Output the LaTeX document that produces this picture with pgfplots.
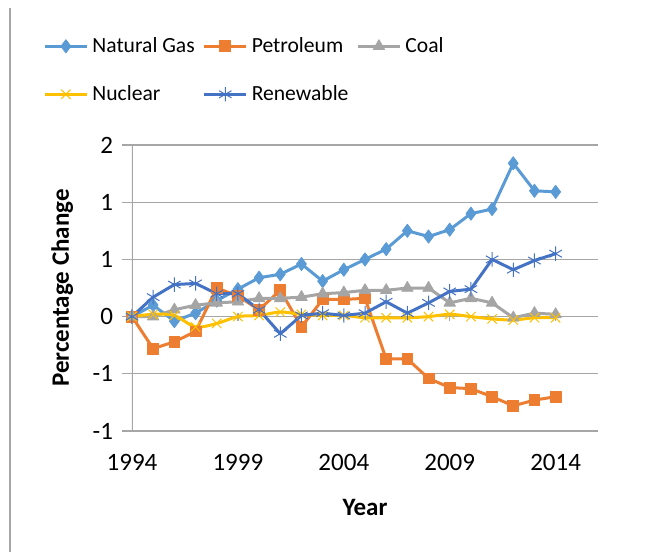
\documentclass[border=0pt]{standalone}
\usepackage{pgfplots}
\pgfplotsset{compat=1.18}
\usepackage{fontspec}
\setmainfont{Carlito}
\definecolor{cgas}{HTML}{5B9BD5}
\definecolor{cpet}{HTML}{ED7D31}
\definecolor{ccoal}{HTML}{A5A5A5}
\definecolor{cnuc}{HTML}{FFC000}
\definecolor{cren}{HTML}{4472C4}
\definecolor{cgrid}{HTML}{A6A6A6}
\begin{document}
\begin{tikzpicture}
% page frame: 652x552 px at 0.5pt per px
\useasboundingbox (-66pt,-60.5pt) rectangle (260pt,215.5pt);
\draw[cgrid, line width=0.6pt] (-61pt,211.5pt) -- (-61pt,-60.5pt);
\begin{axis}[
  at={(0,0)}, anchor=south west,
  scale only axis, width=233pt, height=143pt,
  xmin=1994, xmax=2016, ymin=-1, ymax=1.5,
  xtick={1994,1999,2004,2009,2014},
  xticklabels={1994,1999,2004,2009,2014},
  ytick={-1,-0.5,0,0.5,1,1.5},
  yticklabels={-1,-1,0,1,1,2},
  axis line style={draw=none},
  ymajorgrids, grid style={cgrid, line width=0.6pt},
  tick align=outside, major tick length=5pt,
  xtick style={draw=none}, ytick style={cgrid, line width=0.6pt},
  ytick pos=left,
  tick label style={font=\fontsize{12.5}{15}\selectfont, text=black},
  yticklabel style={xshift=-1pt},
  xticklabel style={yshift=-3pt},
  xlabel={\textbf{Year}}, ylabel={\textbf{Percentage Change}},
  label style={font=\fontsize{12.5}{15}\selectfont},
  xlabel style={at={(axis description cs:0.5,-0.266)}, anchor=center},
  ylabel style={at={(axis description cs:-0.15,0.5)}, anchor=center},
  legend columns=3,
  legend style={at={(rel axis cs:-0.191,1.392)}, anchor=north west, draw=none, fill=none,
    font=\fontsize{10.8}{12}\selectfont, inner sep=0pt, row sep=11pt,
    /tikz/every even column/.append style={column sep=2pt}},
  legend cell align=left,
  legend image code/.code={\draw[mark repeat=2,mark phase=2] plot coordinates {(0pt,0pt)(10.5pt,0pt)(21pt,0pt)};},
  every axis plot/.append style={line width=1.5pt, line join=round},
]
\addplot[cgas, mark=diamond*, mark size=3.3pt, mark options={solid, line width=0.4pt}] coordinates {
  (1994,0)(1995,0.10)(1996,-0.04)(1997,0.03)(1998,0.14)(1999,0.24)(2000,0.34)
  (2001,0.37)(2002,0.46)(2003,0.31)(2004,0.41)(2005,0.50)(2006,0.59)(2007,0.75)
  (2008,0.70)(2009,0.76)(2010,0.90)(2011,0.94)(2012,1.34)(2013,1.10)(2014,1.09)
};
\addlegendentry{Natural Gas}
\addplot[cpet, mark=square*, mark size=2.7pt, mark options={solid, line width=0.4pt}] coordinates {
  (1994,0)(1995,-0.28)(1996,-0.22)(1997,-0.13)(1998,0.25)(1999,0.18)(2000,0.06)
  (2001,0.23)(2002,-0.09)(2003,0.15)(2004,0.15)(2005,0.16)(2006,-0.37)(2007,-0.37)
  (2008,-0.54)(2009,-0.62)(2010,-0.63)(2011,-0.70)(2012,-0.78)(2013,-0.73)(2014,-0.70)
};
\addlegendentry{Petroleum}
\addplot[ccoal, mark=triangle*, mark size=3.3pt, mark options={solid, line width=0.4pt}] coordinates {
  (1994,0)(1995,0.00)(1996,0.06)(1997,0.10)(1998,0.12)(1999,0.13)(2000,0.16)
  (2001,0.16)(2002,0.17)(2003,0.20)(2004,0.21)(2005,0.23)(2006,0.23)(2007,0.25)
  (2008,0.25)(2009,0.12)(2010,0.16)(2011,0.12)(2012,-0.01)(2013,0.03)(2014,0.02)
};
\addlegendentry{Coal}
\addplot[cnuc, smooth, mark=x, mark size=3.3pt, mark options={solid, line width=0.5pt}] coordinates {
  (1994,0)(1995,0.02)(1996,0.01)(1997,-0.09)(1998,-0.06)(1999,0.00)(2000,0.01)
  (2001,0.04)(2002,0.02)(2003,0.01)(2004,0.01)(2005,-0.01)(2006,-0.01)(2007,-0.01)
  (2008,0.00)(2009,0.02)(2010,0.00)(2011,-0.02)(2012,-0.03)(2013,-0.01)(2014,-0.01)
};
\addlegendentry{Nuclear}
\addplot[cren, mark=asterisk, mark size=3.6pt, mark options={solid, line width=0.5pt}] coordinates {
  (1994,0)(1995,0.17)(1996,0.28)(1997,0.29)(1998,0.20)(1999,0.20)(2000,0.06)
  (2001,-0.15)(2002,0.01)(2003,0.03)(2004,0.01)(2005,0.03)(2006,0.13)(2007,0.03)
  (2008,0.12)(2009,0.22)(2010,0.24)(2011,0.50)(2012,0.41)(2013,0.49)(2014,0.55)
};
\addlegendentry{Renewable}
% axis lines and the crossing ticks on the zero line
\draw[cgrid, line width=0.6pt] (rel axis cs:0,0) -- (rel axis cs:0,1);
\draw[cgrid, line width=1pt] (rel axis cs:0,0) -- (rel axis cs:1,0);
\draw[cgrid, line width=0.6pt] (axis cs:1999,-0.035) -- (axis cs:1999,0.035);
\draw[cgrid, line width=0.6pt] (axis cs:2004,-0.035) -- (axis cs:2004,0.035);
\draw[cgrid, line width=0.6pt] (axis cs:2009,-0.035) -- (axis cs:2009,0.035);
\draw[cgrid, line width=0.6pt] (axis cs:2014,-0.035) -- (axis cs:2014,0.035);
\end{axis}
\end{tikzpicture}
\end{document}
